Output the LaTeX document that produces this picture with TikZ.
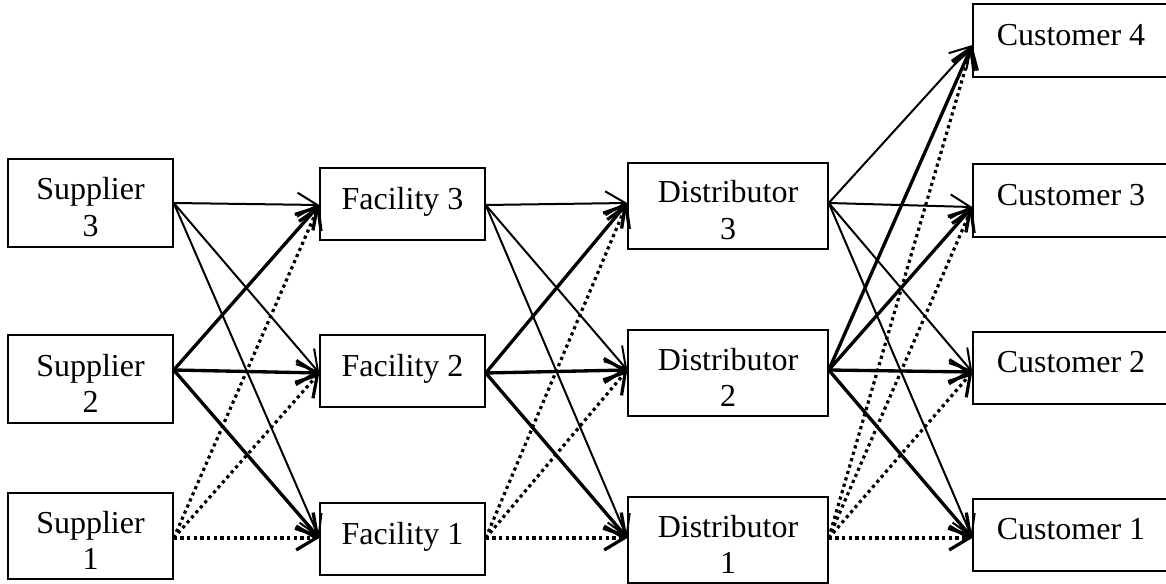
\documentclass[tikz,border=0pt]{standalone}
\usepackage{fontspec}
\setmainfont{Liberation Serif}
\usetikzlibrary{arrows.meta}
\newcommand{\tallstrut}{\rule{0pt}{23pt}}
\begin{document}
\begin{tikzpicture}[x=0.75pt,y=-0.75pt,
  box/.style={draw,line width=1.1pt,inner sep=0pt,align=center,
    font=\fontsize{24}{27.5}\selectfont},
  oneline/.style={text depth=8.5pt},
  headtip/.style={-{Straight Barb[length=15pt,width=18pt]}},
  lowflow/.style={headtip,line width=1.5pt},
  highflow/.style={headtip,line width=2.5pt},
  dotflow/.style={headtip,line width=2.4pt,dash pattern=on 2.4pt off 2.6pt}]
\useasboundingbox (0,0) rectangle (1166,584);
% suppliers
\node[box,minimum width=123.75pt,minimum height=66pt] (s3) at (90.5,203) {\tallstrut Supplier\\3};
\node[box,minimum width=123.75pt,minimum height=66pt] (s2) at (90.5,379) {\tallstrut Supplier\\2};
\node[box,minimum width=123.75pt,minimum height=64.5pt] (s1) at (90.5,536) {\tallstrut Supplier\\1};
% facilities
\node[box,oneline,minimum width=123.75pt,minimum height=54pt] (f3) at (402.5,204) {Facility 3};
\node[box,oneline,minimum width=123.75pt,minimum height=54pt] (f2) at (402.5,371) {Facility 2};
\node[box,oneline,minimum width=123.75pt,minimum height=54pt] (f1) at (402.5,539) {Facility 1};
% distributors
\node[box,minimum width=150pt,minimum height=64.5pt] (d3) at (728,206) {\tallstrut Distributor\\3};
\node[box,minimum width=150pt,minimum height=64.5pt] (d2) at (728,373) {\tallstrut Distributor\\2};
\node[box,minimum width=150pt,minimum height=64.5pt] (d1) at (728,540) {\tallstrut Distributor\\1};
% customers
\node[box,oneline,minimum width=147pt,minimum height=54.75pt] (c4) at (1071,40.5) {Customer 4};
\node[box,oneline,minimum width=147pt,minimum height=54.75pt] (c3) at (1071,200.5) {Customer 3};
\node[box,oneline,minimum width=147pt,minimum height=54pt] (c2) at (1071,368) {Customer 2};
\node[box,oneline,minimum width=147pt,minimum height=54pt] (c1) at (1071,535) {Customer 1};
% connection points
\coordinate (s3o) at (s3.east);
\coordinate (s2o) at ([yshift=6.75pt]s2.east);
\coordinate (s1o) at ([yshift=-1.5pt]s1.east);
\coordinate (f3i) at ([yshift=-0.75pt]f3.west);
\coordinate (f2i) at ([yshift=-1.5pt]f2.west);
\coordinate (f1i) at ([yshift=0.75pt]f1.west);
\coordinate (f3o) at ([yshift=-0.75pt]f3.east);
\coordinate (f2o) at ([yshift=-1.5pt]f2.east);
\coordinate (f1o) at ([yshift=0.75pt]f1.east);
\coordinate (d3i) at ([yshift=2.25pt]d3.west);
\coordinate (d2i) at ([yshift=2.25pt]d2.west);
\coordinate (d1i) at ([yshift=1.5pt]d1.west);
\coordinate (d3o) at ([yshift=2.25pt]d3.east);
\coordinate (d2o) at ([yshift=2.25pt]d2.east);
\coordinate (d1o) at ([yshift=1.5pt]d1.east);
\coordinate (c4i) at ([yshift=-3.4pt]c4.west);
\coordinate (c3i) at ([yshift=-4.9pt]c3.west);
\coordinate (c2i) at ([yshift=-3pt]c2.west);
\coordinate (c1i) at ([yshift=-2.25pt]c1.west);
% flows
\foreach \t in {3,2,1} {
  \draw[lowflow] (s3o) -- (f\t i);
  \draw[highflow] (s2o) -- (f\t i);
  \draw[dotflow] (s1o) -- (f\t i);
  \draw[lowflow] (f3o) -- (d\t i);
  \draw[highflow] (f2o) -- (d\t i);
  \draw[dotflow] (f1o) -- (d\t i);
}
\foreach \t in {4,3,2,1} {
  \draw[lowflow] (d3o) -- (c\t i);
  \draw[highflow] (d2o) -- (c\t i);
  \draw[dotflow] (d1o) -- (c\t i);
}
\end{tikzpicture}
\end{document}
